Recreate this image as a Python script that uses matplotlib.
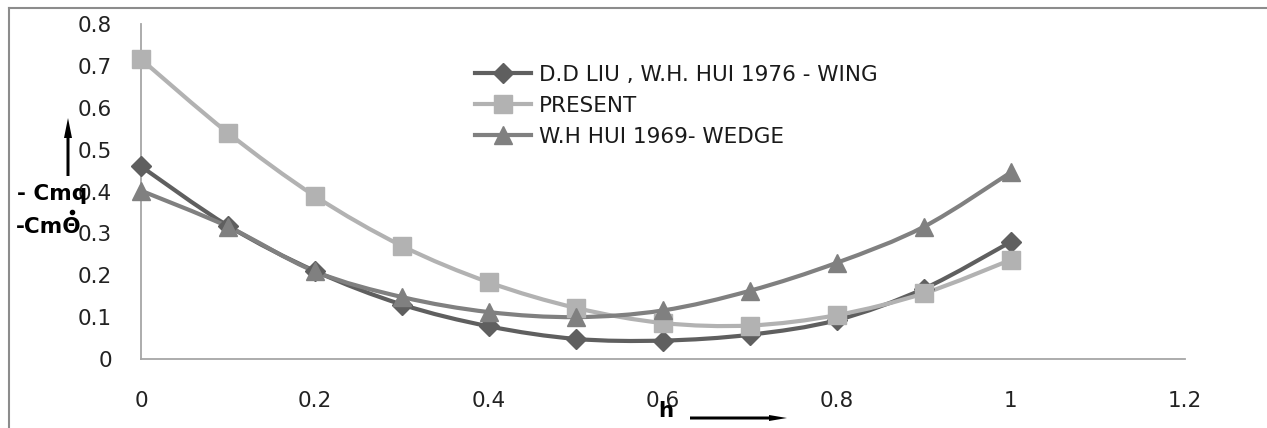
import matplotlib
matplotlib.use("Agg")
import matplotlib.pyplot as plt
from matplotlib.path import Path
from matplotlib.patches import PathPatch, FancyArrow
from matplotlib.lines import Line2D
import numpy as np

h_values = [0.0, 0.1, 0.2, 0.3, 0.4, 0.5, 0.6, 0.7, 0.8, 0.9, 1.0]
liu_wing = [0.46, 0.318, 0.21, 0.13, 0.078, 0.048, 0.044, 0.058, 0.093, 0.168, 0.28]
present = [0.716, 0.54, 0.389, 0.27, 0.183, 0.122, 0.086, 0.080, 0.105, 0.157, 0.237]
hui_wedge = [0.402, 0.316, 0.209, 0.148, 0.112, 0.100, 0.116, 0.163, 0.230, 0.316, 0.446]

series_labels = ["D.D LIU , W.H. HUI 1976 - WING", "PRESENT", "W.H HUI 1969- WEDGE"]
x_ticks = [0, 0.2, 0.4, 0.6, 0.8, 1, 1.2]
x_ticklabels = ["0", "0.2", "0.4", "0.6", "0.8", "1", "1.2"]
y_ticks = [0, 0.1, 0.2, 0.3, 0.4, 0.5, 0.6, 0.7, 0.8]
y_ticklabels = ["0", "0.1", "0.2", "0.3", "0.4", "0.5", "0.6", "0.7", "0.8"]

plt.rcParams['font.family'] = ['DejaVu Sans']
FS = 15.5

W, H = 1267, 428
fig = plt.figure(figsize=(W / 100, H / 100), dpi=100)
ax = fig.add_axes([141 / W, 1 - 359 / H, (1185 - 141) / W, (359 - 24) / H])
ax.set_xlim(0, 1.2)
ax.set_ylim(0, 0.8)


def smooth_path(xs, ys):
    xs = np.asarray(xs, float)
    ys = np.asarray(ys, float)
    n = len(xs)
    verts = [(xs[0], ys[0])]
    codes = [Path.MOVETO]
    for i in range(n - 1):
        p0 = np.array([xs[max(i - 1, 0)], ys[max(i - 1, 0)]])
        p1 = np.array([xs[i], ys[i]])
        p2 = np.array([xs[i + 1], ys[i + 1]])
        p3 = np.array([xs[min(i + 2, n - 1)], ys[min(i + 2, n - 1)]])
        c1 = p1 + (p2 - p0) / 6.0
        c2 = p2 - (p3 - p1) / 6.0
        verts += [tuple(c1), tuple(c2), tuple(p2)]
        codes += [Path.CURVE4] * 3
    return Path(verts, codes)


styles = [
    dict(color="#5f5f5f", marker="D", ms=10.5),
    dict(color="#b2b2b2", marker="s", ms=13),
    dict(color="#808080", marker="^", ms=13.5),
]
data = [liu_wing, present, hui_wedge]
handles = []
for idx, (ys, st, lab) in enumerate(zip(data, styles, series_labels)):
    patch = PathPatch(smooth_path(h_values, ys), facecolor="none",
                      edgecolor=st["color"], lw=3.0, zorder=2 + idx * 0.1)
    ax.add_patch(patch)
    ax.plot(h_values, ys, linestyle="none", marker=st["marker"], ms=st["ms"],
            color=st["color"], mec=st["color"], zorder=3 + idx * 0.1, clip_on=False)
    handles.append(Line2D([], [], color=st["color"], lw=3.0, marker=st["marker"],
                          ms=st["ms"], mec=st["color"]))

for s in ["top", "right"]:
    ax.spines[s].set_visible(False)
for s in ["left", "bottom"]:
    ax.spines[s].set_color("#a6a6a6")
    ax.spines[s].set_linewidth(1.3)

ax.set_xticks(x_ticks)
ax.set_xticklabels(x_ticklabels)
ax.set_yticks(y_ticks)
ax.set_yticklabels(y_ticklabels)
ax.tick_params(axis="both", length=0, labelsize=FS, colors="#222222")
ax.tick_params(axis="x", pad=23)
ax.tick_params(axis="y", pad=21)

leg = fig.legend(handles, series_labels, loc="upper left",
                 bbox_to_anchor=(475 / W, 1 - 65 / H), frameon=False,
                 fontsize=FS, handlelength=2.6, handletextpad=0.35,
                 labelspacing=0.5, borderpad=0, borderaxespad=0)
for t in leg.get_texts():
    t.set_color("#1a1a1a")

# axis annotations
fig.text(17 / W, 1 - 194 / H, "- Cmq", fontsize=FS, fontweight="bold",
         ha="left", va="center", color="black")
fig.text(16 / W, 1 - 227 / H, "-CmΘ", fontsize=FS, fontweight="bold",
         ha="left", va="center", color="black")
fig.add_artist(Line2D([72 / W], [1 - 212 / H], marker="o", ms=3, color="black",
                      linestyle="none", transform=fig.transFigure))
fig.text(666 / W, 1 - 411 / H, "h", fontsize=FS, fontweight="bold",
         ha="center", va="center", color="black")

fig.add_artist(FancyArrow(68 / W, 1 - 176 / H, 0, (176 - 118) / H,
                          width=3 / W, head_width=8 / W, head_length=20 / H,
                          length_includes_head=True, color="black", lw=0,
                          transform=fig.transFigure))
fig.add_artist(FancyArrow(690 / W, 1 - 418 / H, (787 - 690) / W, 0,
                          width=3 / H, head_width=6 / H, head_length=18 / W,
                          length_includes_head=True, color="black", lw=0,
                          transform=fig.transFigure))

# outer frame
fig.add_artist(Line2D([9 / W, 9 / W], [0, 1 - 8 / H], color="#8c8c8c", lw=1.5,
                      transform=fig.transFigure))
fig.add_artist(Line2D([9 / W, 1], [1 - 8 / H, 1 - 8 / H], color="#8c8c8c", lw=1.5,
                      transform=fig.transFigure))

fig.savefig("out.png", dpi=100)
